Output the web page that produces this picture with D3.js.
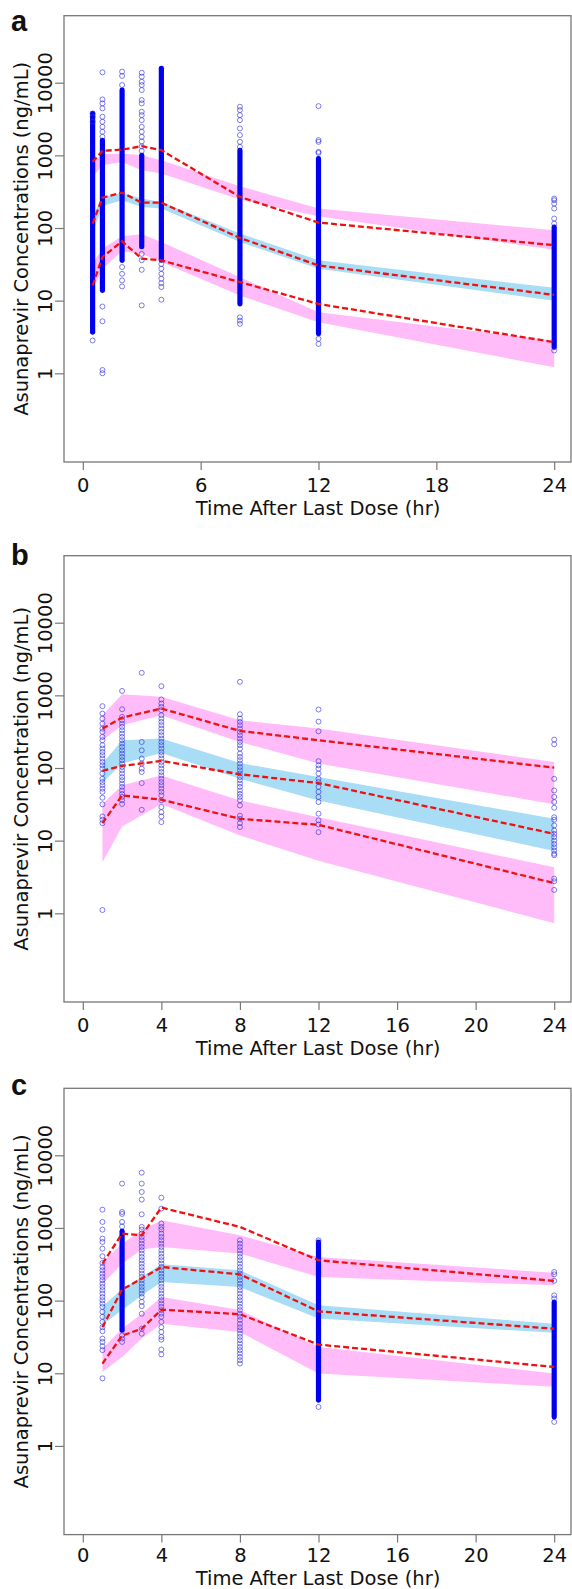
<!DOCTYPE html>
<html>
<head>
<meta charset="utf-8">
<script src="https://cdn.jsdelivr.net/npm/d3@7"></script>
<style>
body { margin: 0; background: #fff; }
text { font-family: "DejaVu Sans", sans-serif; fill: #111; }
</style>
</head>
<body>
<div id="chart"></div>
<script>
/*
Data: panel a
*/
const timesA = [0.5, 1, 2, 3, 4, 8, 12, 24];
const obsP95A = [813, 1153, 1202, 1337, 1177, 268, 119, 58];
const obsP50A = [115, 262, 307, 223, 223, 73, 30.5, 12];
const obsP05A = [16.2, 39.8, 65.5, 37.8, 35.8, 18, 9.0, 2.68];
const p95HiA = [813, 1038, 1060, 1005, 857, 376, 185, 93];
const p95LoA = [505, 731, 813, 624, 561, 246, 145, 50];
const p50HiA = [142, 268, 304, 254, 228, 84, 36, 15];
const p50LoA = [84, 201, 241, 195, 185, 64, 27.5, 10];
const p05HiA = [32, 52, 77, 82, 64, 21, 6.9, 2.8];
const p05LoA = [13.8, 27.5, 48, 44, 34, 11.8, 5.05, 1.21];
const pointTimesA = [0.5, 1, 2, 3, 4, 8, 12, 24];
const pointConcA = [
	[3780, 3400, 2900, 2.83],
	[13900, 5890, 5190, 4430, 3400, 2900, 2470, 2110, 1800, 8.3, 5.2, 1.11, 1.0],
	[14200, 12400, 9290, 29, 23.4, 19, 15.7],
	[13700, 12100, 10300, 9290, 7930, 5770, 5190, 3980, 3580, 3050, 2470, 2110, 1800, 1550, 1330, 1150, 44, 36, 26.6, 8.6],
	[32, 27.5, 23.4, 20, 17.4, 15.4, 10.3],
	[4670, 4200, 3580, 3050, 2345, 1900, 1535, 1310, 5.9, 5.3, 4.8],
	[4760, 1620, 1535, 1117, 1080, 2.98, 2.54],
	[254, 241, 217, 185, 135, 115, 2.06]
];
// [time, highest, lowest] of the solid runs of points
const denseA = [
	[0.5, 3780, 3.68], [1, 1620, 13.8], [2, 7930, 35.8], [3, 1000, 55],
	[4, 15800, 36], [8, 1177, 9.0], [12, 904, 3.5], [24, 103, 2.28]
];

/*
Data: panel b
*/
const timesB = [1, 2, 4, 8, 12, 24];
const obsP95B = [349, 494, 658, 324, 241, 101];
const obsP50B = [91, 107, 125, 82, 62, 12.4];
const obsP05B = [17.4, 42, 36.6, 20, 16.5, 2.6];
const p95HiB = [532, 1038, 953, 454, 349, 121];
const p95LoB = [241, 388, 532, 228, 115, 31.6];
const p50HiB = [115, 241, 254, 117, 75, 20];
const p50LoB = [62, 115, 161, 71, 35.8, 7.2];
const p05HiB = [32, 58, 79, 35.8, 21, 4.3];
const p05LoB = [5.05, 15.7, 32, 11.8, 5.3, 0.73];
const pointTimesB = [1, 2, 3, 4, 8, 12, 24];
const pointConcB = [
	[710, 561, 479, 408, 349, 314, 268, 241, 206, 185, 166, 150, 135, 121, 109, 98, 84, 71, 64, 58, 52, 47, 39, 31.6, 21.5, 19.4, 17.4, 1.11],
	[1150, 644, 505, 454, 408, 368, 331, 298, 268, 241, 217, 195, 175, 158, 142, 128, 115, 103, 93, 84, 75, 68, 61, 55, 49, 44, 40, 36, 32],
	[2040, 228, 175, 135, 115, 98, 88, 62, 26.6],
	[1337, 877, 771, 693, 624, 532, 479, 431, 388, 349, 314, 282, 254, 228, 206, 185, 166, 150, 135, 121, 109, 98, 88, 79, 71, 64, 58, 52, 47, 42, 36, 29, 24.7, 21.5, 18],
	[1535, 550, 479, 431, 388, 349, 314, 282, 254, 228, 206, 185, 158, 142, 128, 115, 103, 93, 84, 75, 68, 61, 55, 49, 44, 40, 36, 30.5, 22, 20, 17.4, 15.4],
	[638, 435, 320, 124, 109, 98, 84, 71, 64, 55, 47, 40, 34, 23.5, 19, 16.7, 13.1],
	[246, 212, 71, 49, 40, 34, 28.4, 21, 19.4, 16.2, 13.8, 12.4, 11.2, 10, 9.0, 8.1, 7.3, 6.6, 6.3, 3.0, 2.76, 2.1]
];
const denseB = [];

/*
Data: panel c
*/
const timesC = [1, 2, 3, 4, 8, 12, 24];
const obsP95C = [323, 836, 793, 1905, 1033, 359, 187];
const obsP50C = [43, 142, 201, 290, 230, 71, 41];
const obsP05C = [13.6, 33, 41, 75, 65, 24.8, 12.2];
const p95HiC = [341, 608, 929, 1276, 793, 399, 241];
const p95LoC = [168, 323, 504, 548, 444, 212, 163];
const p50HiC = [82, 146, 212, 316, 261, 86, 48];
const p50LoC = [46, 74, 118, 181, 154, 56.5, 36];
const p05HiC = [21.8, 41, 66, 112, 74, 23, 9.9];
const p05LoC = [10.4, 16.8, 30, 48, 37, 9.9, 6.5];
const pointTimesC = [1, 2, 3, 4, 8, 12, 24];
const pointConcC = [
	[1786, 1211, 949, 713, 641, 520, 408, 330, 290, 261, 235, 212, 191, 171, 154, 139, 125, 112, 101, 91, 82, 70, 60, 51, 43, 38, 30, 27, 23.5, 20.8, 8.5],
	[4075, 1660, 1560, 1211, 1050, 33, 30, 27],
	[5770, 4075, 3130, 2455, 1540, 1033, 949, 836, 752, 676, 608, 548, 493, 444, 399, 359, 323, 290, 261, 235, 212, 191, 171, 154, 139, 125, 112, 96, 84, 66, 41, 35],
	[2610, 1845, 1148, 1033, 949, 836, 752, 676, 608, 548, 493, 444, 399, 359, 323, 290, 261, 235, 212, 191, 171, 154, 139, 125, 112, 101, 91, 82, 74, 66, 60, 51, 43, 37, 31.6, 29, 21.2, 18.2],
	[676, 608, 548, 493, 444, 399, 359, 323, 290, 261, 235, 212, 191, 171, 154, 139, 125, 112, 101, 91, 82, 74, 66, 60, 54, 48, 43, 39, 35, 31.6, 28.5, 25.6, 23, 20.8, 18.7, 16.8, 15.1, 13.6],
	[676, 3.44],
	[248, 230, 187, 118, 107, 2.14]
];
const denseC = [[2, 900, 39], [12, 641, 4.25], [24, 96, 2.5]];

const yTicks = [1, 10, 100, 1000, 10000];
const xTicksA = [0, 6, 12, 18, 24];
const xTicksBC = [0, 4, 8, 12, 16, 20, 24];

/*
Layout
*/
const width = 572;
const height = 1589;
const decade = 72.65;
const svg = d3.select("#chart").append("svg")
	.attr("width", width)
	.attr("height", height);

const panels = [
	{ letter: "a", top: 15.7, letterY: 31, tickGap: 30, titleGap: 53, ylab: "Asunaprevir Concentrations (ng/mL)", xTicks: xTicksA,
		times: timesA, p95: obsP95A, p50: obsP50A, p05: obsP05A,
		bands: [[p95HiA, p95LoA, "#ffbcf8"], [p50HiA, p50LoA, "#a9ddf5"], [p05HiA, p05LoA, "#ffbcf8"]],
		pt: pointTimesA, pc: pointConcA, dense: denseA },
	{ letter: "b", top: 555.7, letterY: 565, tickGap: 30, titleGap: 53, ylab: "Asunaprevir Concentration (ng/mL)", xTicks: xTicksBC,
		times: timesB, p95: obsP95B, p50: obsP50B, p05: obsP05B,
		bands: [[p95HiB, p95LoB, "#ffbcf8"], [p50HiB, p50LoB, "#a9ddf5"], [p05HiB, p05LoB, "#ffbcf8"]],
		pt: pointTimesB, pc: pointConcB, dense: denseB },
	{ letter: "c", top: 1088.3, letterY: 1095, tickGap: 27.5, titleGap: 50.5, ylab: "Asunaprevir Concentrations (ng/mL)", xTicks: xTicksBC,
		times: timesC, p95: obsP95C, p50: obsP50C, p05: obsP05C,
		bands: [[p95HiC, p95LoC, "#ffbcf8"], [p50HiC, p50LoC, "#a9ddf5"], [p05HiC, p05LoC, "#ffbcf8"]],
		pt: pointTimesC, pc: pointConcC, dense: denseC }
];

const boxLeft = 64;
const boxRight = 571;
const x = d3.scaleLinear().domain([0, 24]).range([82.8, 554.2]);

panels.forEach(drawPanel);

function drawPanel(p) {
	const boxTop = p.top;
	const boxBottom = p.top + 446.3;
	const y = d3.scaleLog()
		.domain([1, 10000])
		.range([boxTop + 67 + 4 * decade, boxTop + 67]);
	const g = svg.append("g");

	// prediction interval bands
	p.bands.forEach(([hi, lo, col]) => {
		const area = d3.area()
			.x((d, i) => x(p.times[i]))
			.y0((d, i) => y(lo[i]))
			.y1((d) => y(d));
		g.append("path")
			.datum(hi)
			.attr("d", area)
			.attr("fill", col);
	});

	// observed points
	g.selectAll(".dense")
		.data(p.dense)
		.enter()
		.append("rect")
		.attr("class", "dense")
		.attr("x", (d) => x(d[0]) - 2.6)
		.attr("width", 5.2)
		.attr("y", (d) => y(d[1]) - 2.5)
		.attr("height", (d) => y(d[2]) - y(d[1]) + 5)
		.attr("rx", 2.4)
		.attr("fill", "#0000f0");
	p.pt.forEach((t, i) => {
		g.selectAll(null)
			.data(p.pc[i])
			.enter()
			.append("circle")
			.attr("cx", x(t))
			.attr("cy", (d) => y(d))
			.attr("r", 2.5)
			.attr("fill", "none")
			.attr("stroke", "#2a2ae0")
			.attr("stroke-opacity", 0.6)
			.attr("stroke-width", 1);
	});

	// observed percentiles
	const line = d3.line()
		.x((d, i) => x(p.times[i]))
		.y((d) => y(d));
	[p.p95, p.p50, p.p05].forEach((s) => {
		g.append("path")
			.datum(s)
			.attr("d", line)
			.attr("fill", "none")
			.attr("stroke", "#ee1111")
			.attr("stroke-width", 2.3)
			.attr("stroke-dasharray", "6,3");
	});

	// box
	g.append("rect")
		.attr("x", boxLeft)
		.attr("y", boxTop)
		.attr("width", boxRight - boxLeft)
		.attr("height", boxBottom - boxTop)
		.attr("fill", "none")
		.attr("stroke", "#777")
		.attr("stroke-width", 1.3);

	// y axis
	const yAxis = g.append("g")
		.attr("transform", `translate(${boxLeft},0)`)
		.call(d3.axisLeft(y).tickValues(yTicks).tickFormat(d3.format("d")).tickSize(9));
	yAxis.select(".domain").remove();
	yAxis.selectAll("line").attr("stroke", "#777").attr("stroke-width", 1.2);
	yAxis.selectAll("text")
		.attr("x", null)
		.attr("dy", null)
		.attr("transform", "translate(-12.5,0) rotate(-90)")
		.attr("text-anchor", "middle")
		.attr("font-family", "DejaVu Sans")
		.attr("font-size", 19.5)
		.attr("fill", "#111");

	// x axis
	const xAxis = g.append("g")
		.attr("transform", `translate(0,${boxBottom})`)
		.call(d3.axisBottom(x).tickValues(p.xTicks).tickFormat(d3.format("d")).tickSize(8));
	xAxis.select(".domain").remove();
	xAxis.selectAll("line").attr("stroke", "#777").attr("stroke-width", 1.2);
	xAxis.selectAll("text")
		.attr("y", p.tickGap)
		.attr("dy", null)
		.attr("font-family", "DejaVu Sans")
		.attr("font-size", 19.5)
		.attr("fill", "#111");

	// titles
	g.append("text")
		.attr("x", (boxLeft + boxRight) / 2 + 0.5)
		.attr("y", boxBottom + p.titleGap)
		.attr("text-anchor", "middle")
		.attr("font-size", 19.5)
		.text("Time After Last Dose (hr)");
	g.append("text")
		.attr("transform", `translate(27.5,${(boxTop + boxBottom) / 2}) rotate(-90)`)
		.attr("text-anchor", "middle")
		.attr("font-size", 19.5)
		.text(p.ylab);
	g.append("text")
		.attr("x", 11)
		.attr("y", p.letterY)
		.style("font-family", "'Liberation Sans', Arial, sans-serif")
		.attr("font-weight", "bold")
		.attr("font-size", 29)
		.text(p.letter);
}
</script>
</body>
</html>
